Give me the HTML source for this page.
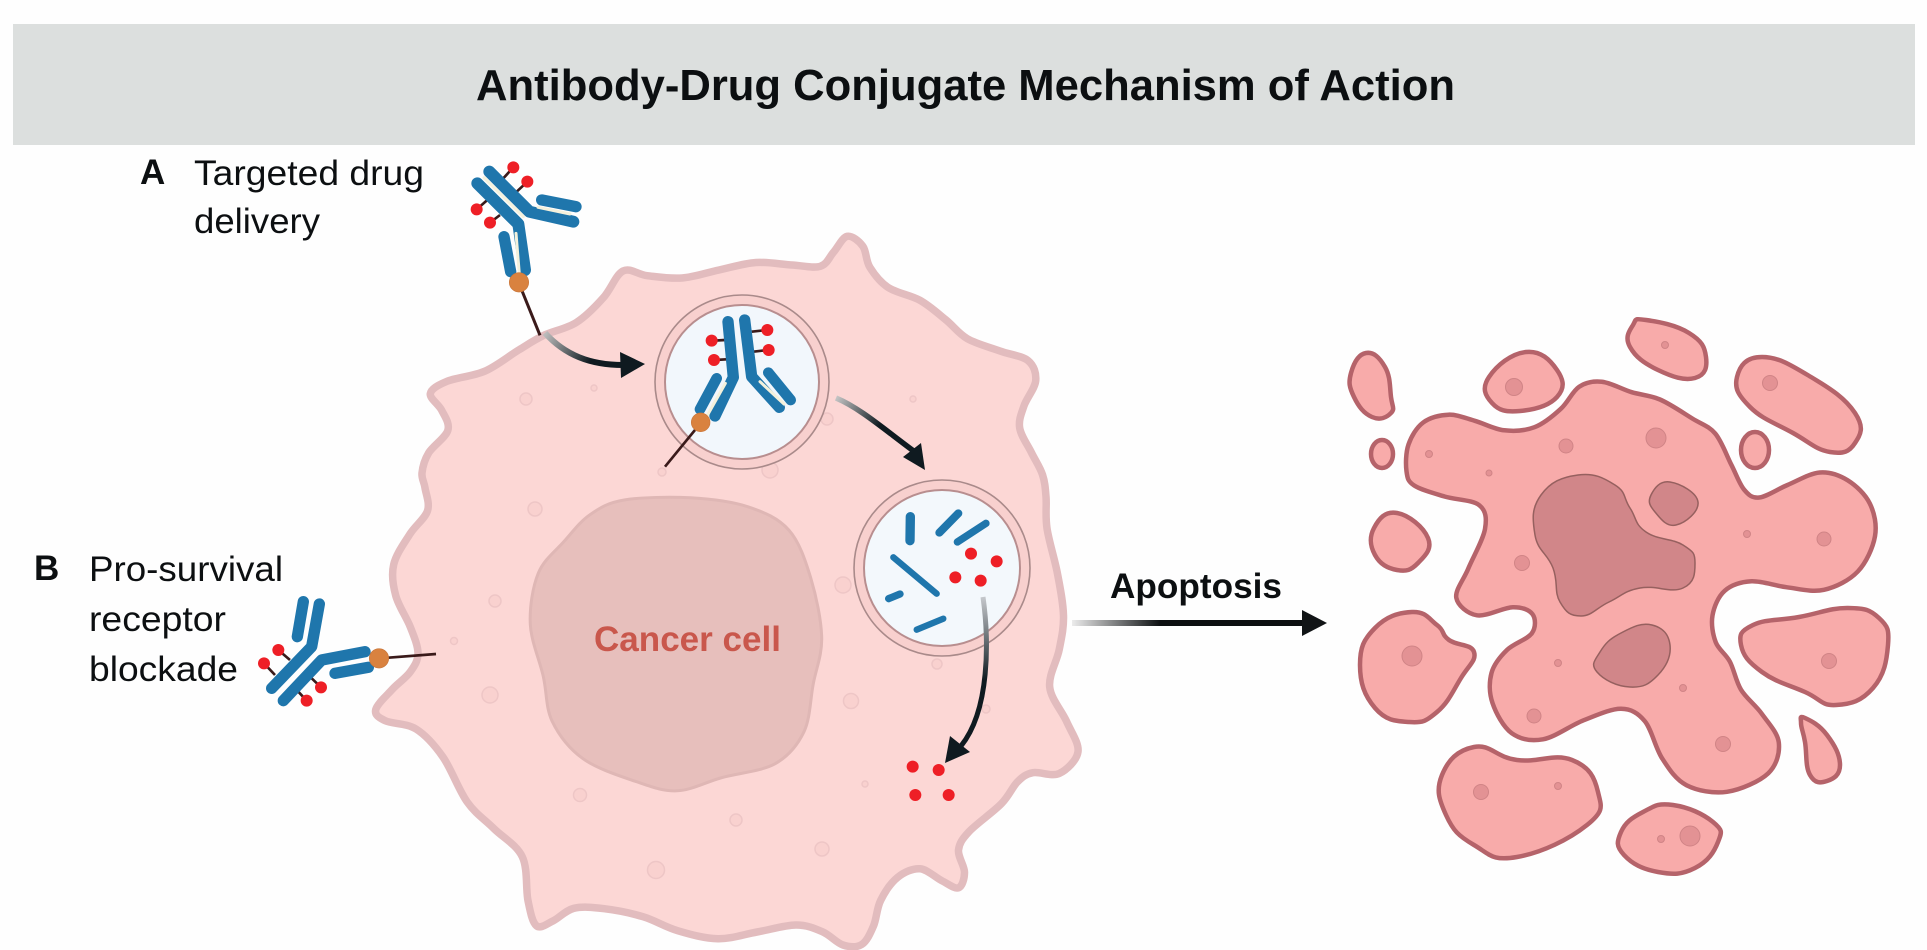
<!DOCTYPE html>
<html><head><meta charset="utf-8"><title>Antibody-Drug Conjugate Mechanism of Action</title>
<style>
html,body{margin:0;padding:0;background:#fefefe;width:1927px;height:950px;overflow:hidden}
svg{display:block}
text{font-family:"Liberation Sans",sans-serif;fill:#0c0f11}
.l{font-size:35px}
.b{font-weight:bold}
.blue{fill:none;stroke:#1f76ac;stroke-linecap:round;stroke-linejoin:round}
.cream{fill:none;stroke:#f4f1dc;stroke-linecap:round;stroke-linejoin:round;stroke-width:9}
.st{fill:none;stroke:#3a1a1a;stroke-width:8}
.r{fill:#ee1f26}
.o{fill:#d9823f;stroke:#c9763a;stroke-width:2}
.dc{fill:#f8abaa;stroke:#b5636a;stroke-width:4.5}
.dn{fill:#d18689;stroke:#96605f;stroke-width:1.5}
.dd{fill:#e39294;stroke:#d08486;stroke-width:1}
.cd{fill:#f9d1cf;stroke:#eec6c6;stroke-width:1.5}
</style></head><body>
<svg id="s" xmlns="http://www.w3.org/2000/svg" width="1927" height="950" viewBox="0 0 1927 950">
<defs>
<linearGradient id="g1" gradientUnits="userSpaceOnUse" x1="545" y1="335" x2="590" y2="362"><stop offset="0" stop-color="#bbb"/><stop offset="1" stop-color="#0f1a20"/></linearGradient>
<linearGradient id="g2" gradientUnits="userSpaceOnUse" x1="836" y1="398" x2="880" y2="425"><stop offset="0" stop-color="#c5c5c5"/><stop offset="1" stop-color="#0f1a20"/></linearGradient>
<linearGradient id="g3" gradientUnits="userSpaceOnUse" x1="983" y1="597" x2="985" y2="680"><stop offset="0" stop-color="#c5c8cc"/><stop offset="1" stop-color="#0f1a20"/></linearGradient>
<linearGradient id="g4" gradientUnits="userSpaceOnUse" x1="1072" y1="623" x2="1160" y2="623"><stop offset="0" stop-color="#ececec"/><stop offset="1" stop-color="#0c0f11"/></linearGradient>
</defs>
<rect x="0" y="0" width="1927" height="950" fill="#fefefe"/>
<rect x="13" y="24" width="1902" height="121" fill="#dcdfde"/>
<text x="476" y="100" class="b" font-size="44" textLength="979" lengthAdjust="spacingAndGlyphs">Antibody-Drug Conjugate Mechanism of Action</text>

<g id="cell"></g>
<g id="dots"></g>

<text x="140" y="184" class="l b">A</text>
<text x="194" y="185" class="l" textLength="230" lengthAdjust="spacingAndGlyphs">Targeted drug</text>
<text x="194" y="233" class="l" textLength="126" lengthAdjust="spacingAndGlyphs">delivery</text>
<text x="34" y="580" class="l b">B</text>
<text x="89" y="581" class="l" textLength="194" lengthAdjust="spacingAndGlyphs">Pro-survival</text>
<text x="89" y="631" class="l" textLength="137" lengthAdjust="spacingAndGlyphs">receptor</text>
<text x="89" y="681" class="l" textLength="149" lengthAdjust="spacingAndGlyphs">blockade</text>
<text x="594" y="651" class="b" font-size="35" style="fill:#c9574c" textLength="187" lengthAdjust="spacingAndGlyphs">Cancer cell</text>
<text x="1110" y="598" class="b" font-size="35" textLength="172" lengthAdjust="spacingAndGlyphs">Apoptosis</text>

<!-- vesicle 1 -->
<circle cx="742" cy="382" r="87" fill="#f8d0ce" stroke="#a98a8a" stroke-width="1.6"/>
<circle cx="742" cy="382" r="77" fill="#f2f7fc" stroke="#b88e8f" stroke-width="2"/>
<!-- vesicle 2 -->
<circle cx="942" cy="568" r="88" fill="#f8d0ce" stroke="#a98a8a" stroke-width="1.6"/>
<circle cx="942" cy="568" r="78" fill="#f3f8fc" stroke="#b88e8f" stroke-width="2"/>

<!-- antibody A and vesicle antibody -->
<g transform="translate(450,150) scale(.33333)">
 <path class="st" d="M160 85L190 52M200 125L232 95M112 150L80 178M150 195L120 218"/>
 <circle class="r" cx="190" cy="52" r="18"/><circle class="r" cx="232" cy="95" r="18"/><circle class="r" cx="80" cy="178" r="18"/><circle class="r" cx="120" cy="218" r="18"/>
 <path class="blue" stroke-width="36" d="M118 65L238 185L370 215"/>
 <path class="blue" stroke-width="36" d="M82 100L205 222L225 360"/>
 <path class="blue" stroke-width="34" d="M162 260L182 365"/>
 <path class="blue" stroke-width="34" d="M275 150L378 170"/>
 <path class="cream" d="M102 83L220 200M264 172L360 192M198 250L208 372"/>
 <path fill="none" stroke="#3a1a1a" stroke-width="9" d="M215 420L270 556"/>
 <circle class="o" cx="207" cy="397" r="29"/>

 <path class="st" d="M825 570L790 572M830 628L795 630M905 545L950 540M910 605L955 600"/>
 <circle class="r" cx="785" cy="572" r="18"/><circle class="r" cx="792" cy="630" r="18"/><circle class="r" cx="952" cy="540" r="18"/><circle class="r" cx="956" cy="600" r="18"/>
 <path class="blue" stroke-width="34" d="M834 515L850 682L795 798"/>
 <path class="blue" stroke-width="34" d="M884 510L905 680L988 772"/>
 <path class="blue" stroke-width="32" d="M800 685L750 778"/>
 <path class="blue" stroke-width="32" d="M955 668L1022 750"/>
 <path class="cream" d="M826 700L772 796M930 695L1002 762"/>
 <path fill="none" stroke="#3a1a1a" stroke-width="8" d="M735 840L645 950"/>
 <circle class="o" cx="752" cy="817" r="28"/>
</g>

<!-- arrows -->
<path d="M545 333C565 355 590 365 623 365" fill="none" stroke="url(#g1)" stroke-width="6"/>
<polygon points="620,352 645,364 621,378" fill="#0f1a20"/>
<path d="M836 398C860 408 885 430 915 452" fill="none" stroke="url(#g2)" stroke-width="5.5"/>
<polygon points="903,457 925,470 921,443" fill="#0f1a20"/>
<path d="M983 597C989 640 990 710 961 746" fill="none" stroke="url(#g3)" stroke-width="5"/>
<polygon points="945,763 950,736 970,752" fill="#0f1a20"/>
<rect x="1072" y="620" width="232" height="6" fill="url(#g4)"/>
<polygon points="1302,610 1327,623 1302,636" fill="#111416"/>

<!-- vesicle 2 contents -->
<g transform="translate(830,480) scale(.33333)">
 <path class="blue" stroke-width="28" d="M241 110L240 182"/>
 <path class="blue" stroke-width="24" d="M328 158L385 100"/>
 <path class="blue" stroke-width="22" d="M382 186L468 130"/>
 <path class="blue" stroke-width="19" d="M190 232L320 341"/>
 <path class="blue" stroke-width="22" d="M176 356L210 342"/>
 <path class="blue" stroke-width="19" d="M260 449L340 416"/>
 <circle class="r" cx="423" cy="221" r="18"/><circle class="r" cx="500" cy="244" r="18"/><circle class="r" cx="376" cy="292" r="18"/><circle class="r" cx="452" cy="302" r="18"/>
 <circle class="r" cx="248" cy="860" r="18"/><circle class="r" cx="326" cy="870" r="18"/><circle class="r" cx="256" cy="945" r="18"/><circle class="r" cx="356" cy="945" r="18"/>
</g>

<!-- antibody B -->
<g transform="translate(240,580) scale(.33333)">
 <path class="st" d="M150 240L115 210M105 285L72 250M215 295L243 322M175 335L200 362"/>
 <circle class="r" cx="115" cy="210" r="18"/><circle class="r" cx="72" cy="250" r="18"/><circle class="r" cx="243" cy="322" r="18"/><circle class="r" cx="200" cy="362" r="18"/>
 <path class="blue" stroke-width="34" d="M95 325L215 200L238 72"/>
 <path class="blue" stroke-width="34" d="M130 362L245 240L375 215"/>
 <path class="blue" stroke-width="34" d="M190 65L172 170"/>
 <path class="blue" stroke-width="34" d="M285 280L385 262"/>
 <path fill="none" stroke="#3a1a1a" stroke-width="8" d="M445 233L588 222"/>
 <circle class="o" cx="417" cy="235" r="29"/>
</g>

<g id="dead"></g>
</svg>
<script>
var NS="http://www.w3.org/2000/svg";
function relax(p){var n=p.length;return p.map(function(b,i){var a=p[(i-1+n)%n],c=p[(i+1)%n];return [(a[0]+4*b[0]+c[0])/6,(a[1]+4*b[1]+c[1])/6];});}
function sm(p,k){k=k||6;var n=p.length,d="M"+p[0][0].toFixed(1)+" "+p[0][1].toFixed(1);
 for(var i=0;i<n;i++){var a=p[(i-1+n)%n],b=p[i],c=p[(i+1)%n],e=p[(i+2)%n];
  d+="C"+(b[0]+(c[0]-a[0])/k).toFixed(1)+" "+(b[1]+(c[1]-a[1])/k).toFixed(1)+" "+(c[0]-(e[0]-b[0])/k).toFixed(1)+" "+(c[1]-(e[1]-b[1])/k).toFixed(1)+" "+c[0].toFixed(1)+" "+c[1].toFixed(1);}
 return d+"Z";}
function add(g,p,attrs,k){var el=document.createElementNS(NS,"path");el.setAttribute("d",sm(p,k));for(var a in attrs)el.setAttribute(a,attrs[a]);document.getElementById(g).appendChild(el);}
function circ(g,x,y,r,c){var el=document.createElementNS(NS,"circle");el.setAttribute("cx",x);el.setAttribute("cy",y);el.setAttribute("r",r);el.setAttribute("class",c);document.getElementById(g).appendChild(el);}
function ell(g,x,y,rx,ry,c){var el=document.createElementNS(NS,"ellipse");el.setAttribute("cx",x);el.setAttribute("cy",y);el.setAttribute("rx",rx);el.setAttribute("ry",ry);el.setAttribute("class",c);document.getElementById(g).appendChild(el);}
var cell=[[424,393],[443,380],[486,375],[522,347],[541,335],[578,325],[605,300],[622,262],[645,278],[682,280],[719,270],[756,260],[793,265],[824,270],[833,253],[846,230],[866,245],[867,267],[885,290],[922,298],[947,320],[964,340],[1001,352],[1032,358],[1040,380],[1022,407],[1016,427],[1032,453],[1044,475],[1047,495],[1044,525],[1059,575],[1065,618],[1062,648],[1042,688],[1068,722],[1085,752],[1060,780],[1030,769],[1017,780],[1007,802],[963,835],[955,848],[968,873],[960,893],[943,882],[920,864],[897,875],[878,900],[875,927],[863,948],[843,948],[823,930],[799,922],[756,932],[719,942],[676,932],[645,915],[602,908],[572,905],[553,922],[535,932],[526,905],[529,852],[492,828],[467,808],[443,752],[418,725],[381,722],[370,712],[393,688],[412,672],[421,655],[412,628],[393,595],[390,565],[409,532],[433,512],[424,485],[421,475],[424,453],[455,430],[443,410]];
add("cell",relax(cell),{fill:"#fcd7d5",stroke:"#e2bcbe","stroke-width":"7.5","stroke-linejoin":"round"});
var nuc=[[615,498],[695,496],[750,505],[793,525],[811,575],[827,642],[811,682],[808,735],[781,768],[719,775],[676,797],[639,782],[578,762],[547,722],[547,678],[525,625],[535,568],[565,542],[590,512]];
add("cell",relax(nuc),{fill:"#e7bfbc",stroke:"#dfb7b5","stroke-width":"3"});
[[535,509,7],[495,601,6],[490,695,8],[580,795,6.5],[736,820,6],[822,849,7],[656,870,8.5],[454,641,3.5],[851,701,7.5],[843,585,8],[865,784,3],[526,399,6],[594,388,3],[913,399,3],[770,470,8],[827,419,6],[662,472,4],[937,664,5],[986,709,4]].forEach(function(d){circ("dots",d[0],d[1],d[2],"cd");});
var main=[[1406,475],[1406,443],[1421,420],[1449,412],[1474,420],[1504,433],[1535,430],[1563,410],[1578,383],[1600,378],[1633,395],[1658,395],[1695,422],[1716,428],[1732,467],[1744,492],[1756,502],[1787,485],[1821,468],[1848,478],[1873,502],[1879,535],[1861,575],[1824,594],[1787,588],[1750,578],[1722,588],[1710,615],[1713,645],[1732,658],[1738,692],[1762,712],[1784,742],[1775,775],[1726,797],[1683,788],[1661,762],[1646,715],[1624,705],[1584,718],[1541,745],[1510,738],[1489,702],[1489,672],[1504,648],[1538,635],[1535,612],[1517,602],[1474,623],[1449,598],[1468,572],[1489,525],[1486,502],[1443,498],[1409,485]];
var frags=[
[[1366,353],[1385,367],[1391,397],[1391,413],[1372,417],[1354,397],[1351,373]],
[[1526,352],[1557,370],[1557,397],[1520,411],[1492,403],[1489,377]],
[[1646,320],[1689,333],[1706,357],[1695,378],[1658,370],[1630,347],[1633,325]],
[[1762,357],[1811,377],[1855,413],[1855,443],[1830,452],[1793,433],[1750,407],[1737,377]],
[[1397,513],[1428,538],[1418,563],[1397,570],[1375,555],[1374,528]],
[[1412,612],[1437,625],[1449,640],[1474,652],[1461,678],[1437,712],[1409,722],[1375,708],[1360,665],[1375,628]],
[[1848,608],[1879,618],[1888,645],[1873,688],[1836,705],[1805,692],[1762,672],[1741,645],[1753,625],[1799,617]],
[[1805,718],[1827,735],[1840,765],[1827,781],[1810,775],[1805,742],[1801,723]],
[[1474,747],[1517,760],[1572,760],[1598,792],[1587,825],[1517,857],[1474,845],[1446,815],[1442,775]],
[[1673,805],[1713,822],[1718,842],[1695,868],[1658,872],[1624,855],[1621,832],[1643,812]]];
add("dead",relax(main),{"class":"dc"});
frags.forEach(function(f){add("dead",f,{"class":"dc"},4.5);});
ell("dead",1382,454,11,14,"dc");
ell("dead",1755,450,14,18,"dc");
[[[1578,475],[1615,485],[1630,508],[1646,532],[1683,545],[1695,563],[1683,588],[1640,588],[1609,602],[1581,616],[1560,602],[1553,568],[1535,535],[1541,495]],
[[1670,482],[1698,502],[1676,525],[1655,512],[1651,495]],
[[1652,625],[1670,645],[1658,675],[1630,687],[1597,672],[1600,652],[1621,633]]].forEach(function(f){add("dead",f,{"class":"dn"},4.5);});
[[1656,438,10],[1566,446,7],[1429,454,3.5],[1489,473,3],[1522,563,7.5],[1747,534,3.5],[1824,539,7],[1558,663,3.5],[1683,688,3.5],[1534,716,7],[1723,744,7.5],[1514,387,8.5],[1665,345,3.5],[1770,383,7.5],[1412,656,10],[1829,661,7.5],[1481,792,7.5],[1558,786,3.5],[1690,836,10],[1661,839,3.5]].forEach(function(d){circ("dead",d[0],d[1],d[2],"dd");});
</script>
</body></html>
